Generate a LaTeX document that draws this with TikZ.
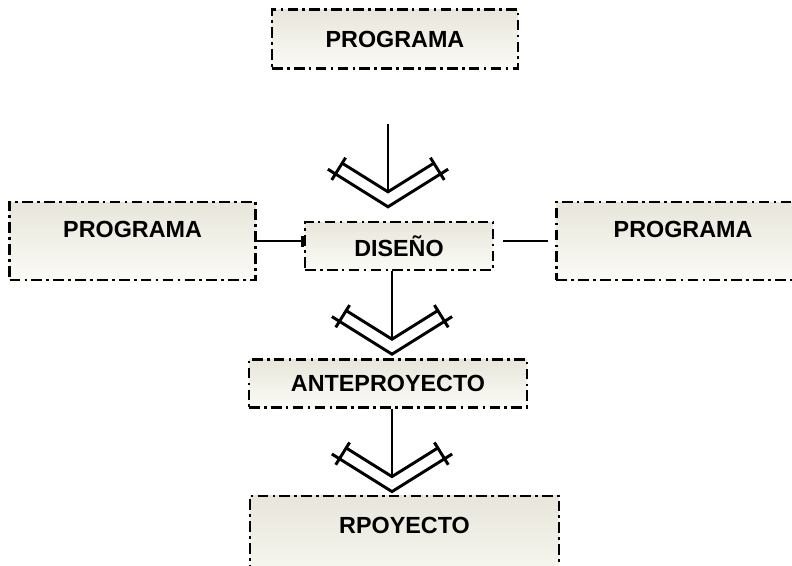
\documentclass[tikz,border=0pt]{standalone}
\usepackage{fontspec}
\setmainfont{Liberation Sans}
\usetikzlibrary{arrows.meta, positioning}
\definecolor{boxTop}{RGB}{232, 230, 219}
\definecolor{boxBottom}{RGB}{251, 251, 246}

\begin{document}
\begin{tikzpicture}[
    % --- Box Styles ---
    stage/.style={
        rectangle,
        top color=boxTop,
        bottom color=boxBottom,
        draw=black,
        line width=1.8pt,
        dash pattern=on 8pt off 3.2pt on 2pt off 3.2pt,
        text centered,
        text depth=0pt,
        inner sep=0pt,
        font=\bfseries\fontsize{17.5}{20}\selectfont
    },
    mainStage/.style={stage, minimum width=184.5pt, minimum height=44.25pt},
    sideStage/.style={stage, minimum width=184.5pt, minimum height=58.5pt, text depth=18pt},
    midStage/.style={stage, minimum width=141pt, minimum height=36pt},
    wideStage/.style={stage, minimum width=208.5pt, minimum height=36pt},
    lastStage/.style={stage, minimum width=231.75pt, minimum height=75pt, text depth=30pt},
    % --- Connector Styles ---
    link/.style={line width=2.2pt, line join=miter},
    openhead/.pic={
        \draw[link] (-34.35pt,21.45pt) -- (0,0) -- (34.35pt,21.45pt);
        \draw[link] (-45.1pt,16.95pt) -- (0,-11.25pt) -- (45.1pt,16.95pt);
        \foreach \s in {1,-1}
            \draw[link, xscale=\s] (-31.8pt,25.6pt) -- (-42.2pt,8.9pt);
    }
]

    % --- Frame ---
    \useasboundingbox (-299.25pt,-239.25pt) rectangle (294.75pt,184.5pt);
    \clip (-299.25pt,-239.25pt) rectangle (294.75pt,184.5pt);

    % --- Centre ---
    \node (diseno) [midStage] {DISEÑO};

    % --- Around the centre ---
    \node (progTop) [mainStage, above=113.25pt of diseno, xshift=-3pt] {PROGRAMA};
    \node (progLeft) [sideStage, left=35.25pt of diseno, yshift=3.75pt] {PROGRAMA};
    \node (progRight) [sideStage, right=45.75pt of diseno, yshift=3.75pt, minimum width=190pt] {PROGRAMA};

    % --- Down the column ---
    \node (ante) [wideStage, below=65.25pt of diseno, xshift=-8.25pt] {ANTEPROYECTO};
    \node (rpoy) [lastStage, below=64.5pt of ante, xshift=12.375pt] {RPOYECTO};

    % --- Side links ---
    \draw [link, -{Bar[width=8.25pt]}] (progLeft.east) -- (progLeft.east -| diseno.west);
    \draw [link, shorten <=6.75pt, shorten >=5.25pt] (diseno.east |- progRight.west) -- (progRight.west);

    % --- Arrows down ---
    \coordinate (s1) at ([xshift=-5.25pt, yshift=-40.5pt]progTop.south);
    \coordinate (v1) at ([xshift=-8.25pt, yshift=21.75pt]diseno.north);
    \coordinate (v2) at ([xshift=3pt, yshift=14.25pt]ante.north);
    \coordinate (v3) at ([xshift=-9.375pt, yshift=13.5pt]rpoy.north);

    \draw [link] (s1) -- (v1);
    \pic at (v1) {openhead};
    \draw [link] ([xshift=-5.25pt]diseno.south) -- (v2);
    \pic at (v2) {openhead};
    \draw [link] ([xshift=3pt]ante.south) -- (v3);
    \pic at (v3) {openhead};

\end{tikzpicture}
\end{document}
